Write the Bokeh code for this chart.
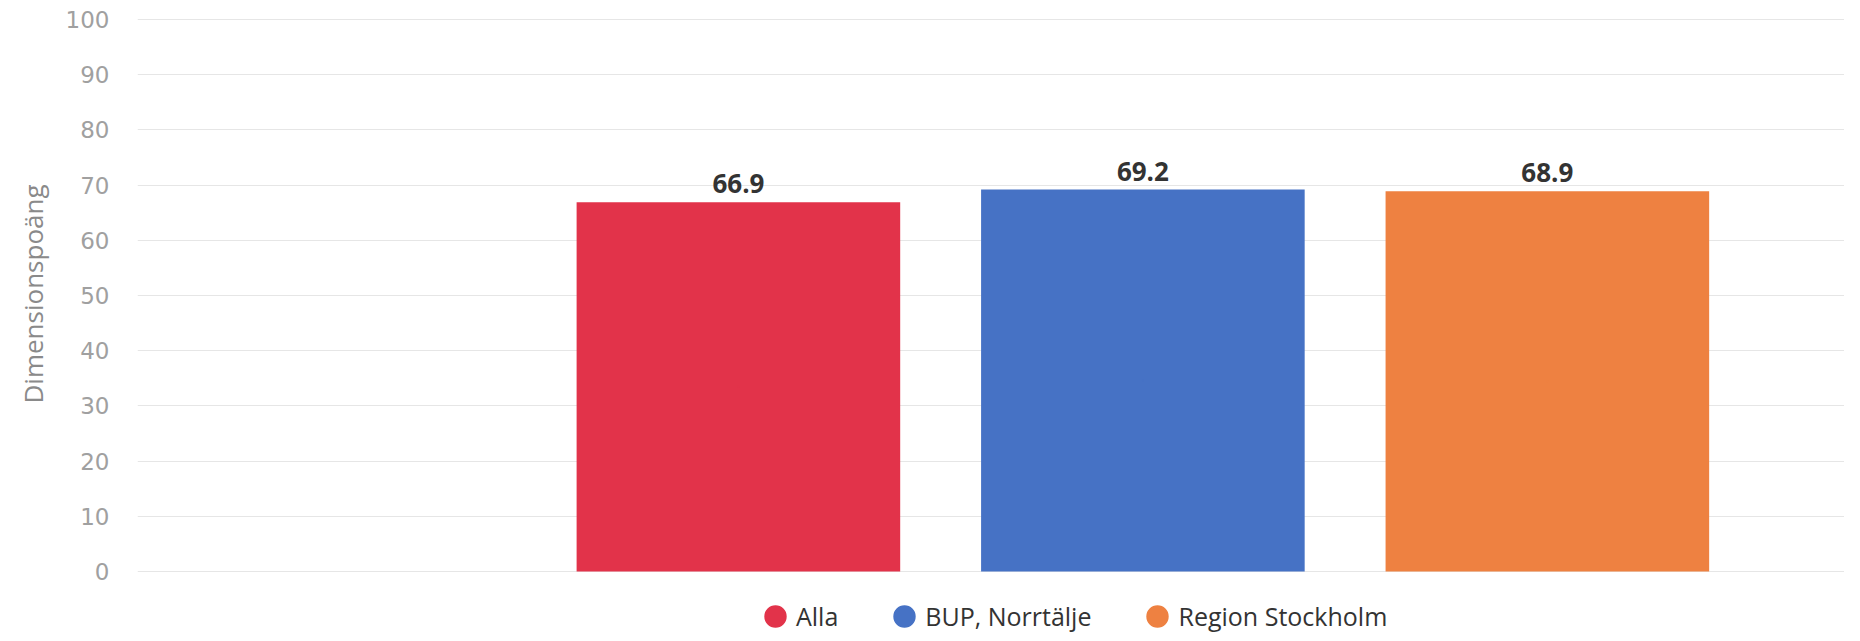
from bokeh.plotting import figure
from bokeh.models import ColumnDataSource, Range1d, Legend, LegendItem, FixedTicker, Title
from bokeh.core.properties import value
from bokeh.embed import file_html
from bokeh.resources import INLINE

# ---- data ----
categories = ["Alla", "BUP, Norrtälje", "Region Stockholm"]
values = [66.9, 69.2, 68.9]
colors = ["#e2334a", "#4672c5", "#ee8141"]
y_ticks = [0, 10, 20, 30, 40, 50, 60, 70, 80, 90, 100]
y_title = "Dimensionspoäng"

xs = list(range(len(categories)))
labels = [f"{v:.1f}" for v in values]
src = ColumnDataSource(dict(x=xs, top=values, color=colors, label=labels, cat=categories))

p = figure(width=1844, height=633, output_backend="svg", toolbar_location=None,
           x_range=Range1d(-1.4856, 2.7346), y_range=Range1d(-11.23, 100.18),
           min_border_left=132, min_border_right=0, min_border_top=18,
           min_border_bottom=0)
p.outline_line_color = None
p.background_fill_color = "white"
p.border_fill_color = "white"
p.xaxis.visible = False
p.xgrid.visible = False
p.ygrid.grid_line_color = "#e6e6e6"
p.ygrid.grid_line_width = 1

p.yaxis.ticker = FixedTicker(ticks=y_ticks)
p.yaxis.axis_line_color = None
p.yaxis.major_tick_line_color = None
p.yaxis.minor_tick_line_color = None
p.yaxis.major_tick_out = 0
p.yaxis.major_label_text_font = "DejaVu Sans"
p.yaxis.major_label_text_font_size = "23px"
p.yaxis.major_label_text_color = "#a0a0a0"
p.yaxis.major_label_standoff = 28

# y-axis title, placed along the 0-100 part of the frame
ytitle = Title(text=y_title, align="left", offset=230, standoff=24,
               text_font="Open Sans", text_font_size="26px",
               text_font_style="normal", text_color="#8a8a8a")
p.add_layout(ytitle, "left")

p.vbar(x="x", top="top", bottom=0, width=0.8, fill_color="color", line_color=None, source=src)
p.text(x="x", y="top", text="label", source=src, text_align="center",
       text_baseline="bottom", y_offset=-9, text_font=value("Open Sans"),
       text_font_style="bold", text_font_size="26px", text_color="#333333")

# legend markers: tiny same-coloured ellipses hidden inside each bar
items = []
for i in range(len(categories)):
    r = p.ellipse(x=[xs[i]], y=[values[i] / 2], width=2, height=2,
                  width_units="screen", height_units="screen",
                  fill_color=colors[i], line_color=None)
    items.append(LegendItem(label=categories[i], renderers=[r]))

legend = Legend(items=items, orientation="horizontal", location=(624, 0),
                glyph_width=28, glyph_height=28, label_standoff=7, spacing=52,
                padding=0, margin=0, border_line_color=None,
                background_fill_alpha=0, label_text_font="Open Sans",
                label_text_font_size="25px", label_text_color="#333333")
p.add_layout(legend)

open("out.html", "w").write(file_html(p, INLINE))
